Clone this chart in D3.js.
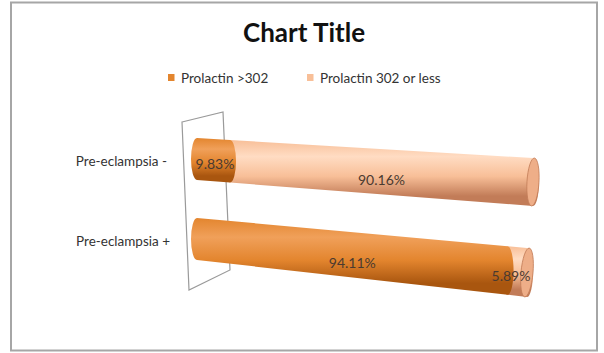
<!DOCTYPE html>
<html><head><meta charset="utf-8">
<script src="https://cdn.jsdelivr.net/npm/d3@7"></script>
<style>
html,body{margin:0;padding:0;background:#fff;}
svg{display:block;font-family:Lato,"Open Sans",sans-serif;}
</style></head>
<body>
<script>
const title = "Chart Title";
const categories = ["Pre-eclampsia -", "Pre-eclampsia +"];
const seriesNames = ["Prolactin >302", "Prolactin 302 or less"];
const prolactinHigh = [9.83, 94.11];
const prolactinLow = [90.16, 5.89];
const seriesColors = [
  {light:"#F0A05A", mid:"#E3852E", dark:"#A9560F", cap:"#E89A55"},
  {light:"#FFDCC3", mid:"#F8BF98", dark:"#C27C58", cap:"#EEAE88"}
];

const W = 604, H = 353;
const svg = d3.select("body").append("svg").attr("width", W).attr("height", H);

// frame
svg.append("rect").attr("x", 11).attr("y", 2.5).attr("width", 586).attr("height", 348)
  .attr("fill", "#fff").attr("stroke", "#a6a6a6").attr("stroke-width", 2);

// title
svg.append("text").attr("x", 304).attr("y", 42).attr("text-anchor", "middle")
  .attr("font-size", 26).attr("font-weight", "bold").attr("fill", "#111").text(title);

// legend
const legendX = [168, 307];
seriesNames.forEach((n, i) => {
  const g = svg.append("g").attr("transform", `translate(${legendX[i]},74)`);
  g.append("rect").attr("width", 6.5).attr("height", 7).attr("fill", seriesColors[i].mid);
  g.append("text").attr("x", 13).attr("y", 8.5).attr("font-size", 13.5).attr("fill", "#333").text(n);
});

// defs gradients (cylinder shading)
const defs = svg.append("defs");
seriesColors.forEach((c, i) => {
  const gr = defs.append("linearGradient").attr("id", "g" + i)
    .attr("x1", 0).attr("y1", 0).attr("x2", 0).attr("y2", 1);
  [[0, c.mid], [0.25, c.light], [0.55, c.mid], [0.85, c.dark], [1, c.dark]].forEach(s =>
    gr.append("stop").attr("offset", s[0]).attr("stop-color", s[1]));
});

// back wall
const wall = [[182,122],[223,112],[230,270],[189,290]];
svg.append("path").attr("d", d3.line()(wall) + "Z").attr("fill", "none")
  .attr("stroke", "#9a9a9a").attr("stroke-width", 1.2);

// scales (perspective approximated by per-category linear scales)
const xScale = [d3.scaleLinear().domain([0, 100]).range([197, 533]),
                d3.scaleLinear().domain([0, 100]).range([197, 527])];
const topScale = [d3.scaleLinear().domain([0, 100]).range([138, 158]),
                  d3.scaleLinear().domain([0, 100]).range([218, 248])];
const botScale = [d3.scaleLinear().domain([0, 100]).range([180, 206]),
                  d3.scaleLinear().domain([0, 100]).range([260, 297])];

const rxEnd = 6;
function segPath(ci, v0, v1) {
  const x = xScale[ci], t = topScale[ci], b = botScale[ci];
  const x0 = x(v0), x1 = x(v1);
  const t0 = t(v0), t1 = t(v1), b0 = b(v0), b1 = b(v1);
  const r0 = (b0 - t0) / 2, r1 = (b1 - t1) / 2;
  return `M${x0},${t0} L${x1},${t1} A${rxEnd},${r1} 0 0 1 ${x1},${b1} ` +
         `L${x0},${b0} A${rxEnd},${r0} 0 0 1 ${x0},${t0} Z`;
}

const seriesVals = [prolactinHigh, prolactinLow];
categories.forEach((c, ci) => {
  let acc = 0;
  const segs = seriesVals.map((vals, si) => {
    const s = {si, v0: acc, v1: acc + vals[ci], val: vals[ci]};
    acc += vals[ci];
    return s;
  });
  const total = acc;
  const g = svg.append("g");
  segs.slice().reverse().forEach(s => {
    g.append("path").attr("d", segPath(ci, s.v0, s.v1))
      .attr("fill", `url(#g${s.si})`);
  });
  // right end cap
  const x = xScale[ci], t = topScale[ci], b = botScale[ci];
  const lastS = segs[segs.length - 1];
  const xe = x(total), ye = (t(total) + b(total)) / 2, re = (b(total) - t(total)) / 2;
  const ang = Math.atan2(t(100) - t(0), x(100) - x(0)) * 180 / Math.PI;
  g.append("ellipse").attr("cx", xe).attr("cy", ye).attr("rx", rxEnd).attr("ry", re)
    .attr("transform", `rotate(${ang},${xe},${ye})`)
    .attr("fill", seriesColors[lastS.si].cap).attr("stroke", seriesColors[lastS.si].dark)
    .attr("stroke-width", 0.8);

  // category label
  const yc = (t(0) + b(0)) / 2;
  svg.append("text").attr("x", ci === 0 ? 167 : 170).attr("y", yc + 7)
    .attr("text-anchor", "end").attr("font-size", 13.5).attr("fill", "#333").text(c);

  // data labels
  segs.forEach(s => {
    const vm = (s.v0 + s.v1) / 2;
    let xm = x(vm);
    const ym = (t(vm) + b(vm)) / 2;
    if (s.val < 20) xm = s.si === 0 ? x(s.v0) + 18 : x(s.v1) - 16;
    svg.append("text").attr("x", xm).attr("y", ym + (s.val < 20 ? 9 : 13)).attr("text-anchor", "middle")
      .attr("font-size", 14).attr("fill", "#4a3a30").text(s.val.toFixed(2) + "%");
  });
});
</script>
</body></html>
